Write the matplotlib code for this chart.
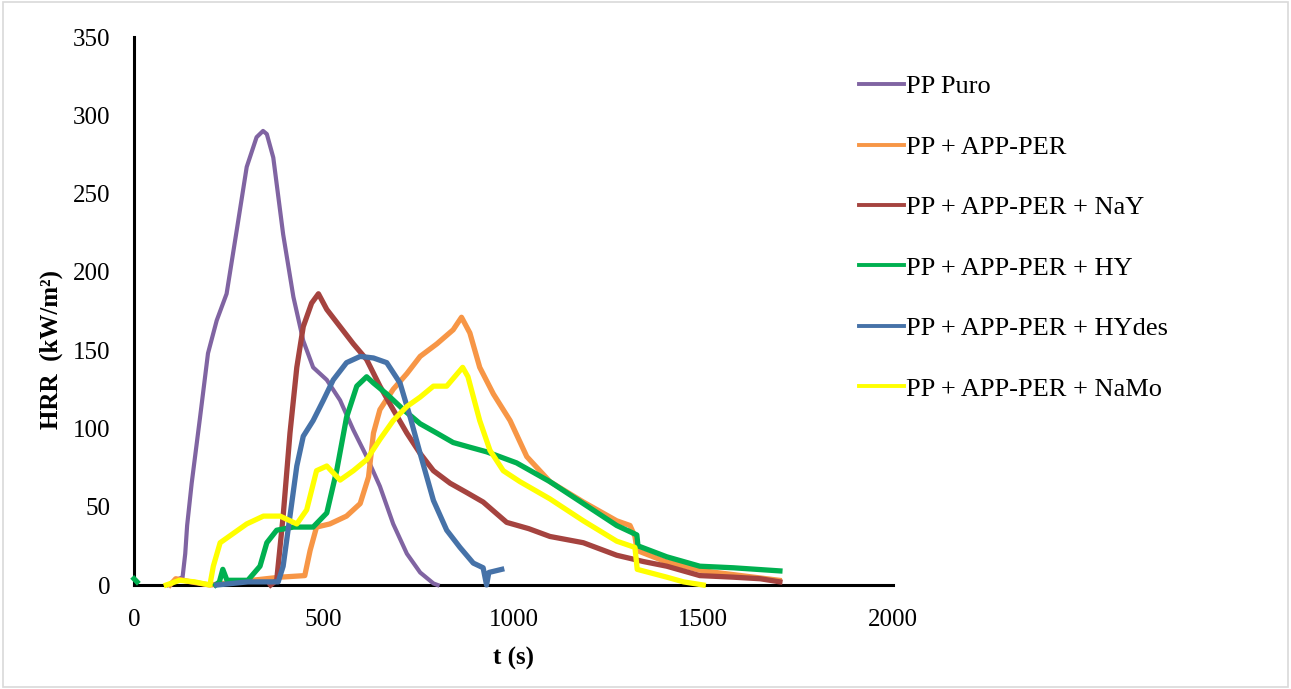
import numpy as np
import matplotlib
matplotlib.use("Agg")
import matplotlib.pyplot as plt
from matplotlib.lines import Line2D
from matplotlib.patches import Rectangle

# =========================
# DATA (HRR curves, cone calorimeter)
# =========================
labels = ["PP Puro", "PP + APP-PER", "PP + APP-PER + NaY",
          "PP + APP-PER + HY", "PP + APP-PER + HYdes", "PP + APP-PER + NaMo"]
colors = ["#8064A2", "#F79646", "#A5433F", "#00B050", "#4672A8", "#FFFF00"]

t_puro = [90, 110, 128, 135, 140, 152, 174, 195, 218, 244, 271, 297, 323, 340, 350,
          367, 393, 420, 446, 472, 508, 543, 578, 613, 648, 683, 719, 754, 789, 800]
hrr_puro = [0, 3, 5, 20, 38, 65, 107, 148, 169, 186, 227, 267, 286, 290, 288,
            273, 224, 184, 156, 139, 131, 118, 99, 82, 63, 39, 20, 8, 1, 0]

t_app = [95, 110, 130, 150, 200, 385, 450, 464, 481, 516, 560, 596, 618, 631, 648,
         683, 719, 754, 798, 841, 863, 885, 911, 947, 991, 1035, 1096, 1184, 1272,
         1307, 1320, 1326, 1400, 1500, 1600, 1700]
hrr_app = [0, 4, 3, 2, 0, 5, 6, 22, 37, 39, 44, 52, 69, 97, 112,
           125, 135, 146, 154, 163, 171, 161, 139, 122, 105, 82, 66, 53, 41,
           38, 31, 22, 15, 9, 6, 3]

t_nay = [360, 376, 393, 411, 429, 446, 468, 486, 508, 543, 578, 613, 648, 683, 719,
         754, 789, 833, 877, 920, 982, 1040, 1096, 1184, 1272, 1342, 1404, 1491,
         1579, 1650, 1702]
hrr_nay = [0, 3, 44, 97, 139, 165, 180, 186, 176, 165, 154, 144, 127, 112, 97,
           84, 73, 65, 59, 53, 40, 36, 31, 27, 19, 15, 12, 6, 5, 4, 2]

t_hy = [0, 8, np.nan, 215, 225, 234, 245, 300, 332, 350, 376, 420, 472, 508, 534,
        560, 587, 613, 631, 666, 710, 754, 798, 841, 885, 930, 1008, 1096, 1184,
        1272, 1325, 1328, 1404, 1491, 1579, 1702]
hrr_hy = [4, 2, np.nan, 0, 2, 10, 3, 3, 12, 27, 35, 37, 37, 46, 73,
          107, 127, 133, 129, 122, 112, 103, 97, 91, 88, 85, 78, 66, 52,
          38, 32, 25, 18, 12, 11, 9]

t_hydes = [218, 300, 380, 393, 411, 429, 446, 472, 499, 525, 560, 596, 631, 666, 701,
           728, 754, 789, 824, 859, 894, 920, 929, 935, 969]
hrr_hydes = [0, 2, 2, 12, 44, 76, 95, 105, 118, 131, 142, 146, 145, 142, 129,
             107, 84, 54, 35, 24, 14, 11, 0, 8, 10]

t_namo = [85, 120, 160, 200, 209, 227, 262, 297, 341, 385, 429, 455, 481, 508, 543,
          578, 613, 648, 683, 719, 754, 789, 824, 845, 866, 880, 911, 938, 973, 1017,
          1096, 1184, 1272, 1320, 1326, 1404, 1448, 1500]
hrr_namo = [0, 3, 2, 0, 12, 27, 33, 39, 44, 44, 39, 48, 73, 76, 67,
            73, 80, 93, 105, 114, 120, 127, 127, 133, 139, 133, 105, 86, 73, 66,
            55, 41, 28, 24, 10, 5, 2, 0]

series = [(t_puro, hrr_puro), (t_app, hrr_app), (t_nay, hrr_nay),
          (t_hy, hrr_hy), (t_hydes, hrr_hydes), (t_namo, hrr_namo)]

x_ticks = [0, 500, 1000, 1500, 2000]
y_ticks = [0, 50, 100, 150, 200, 250, 300, 350]

# =========================
# FIGURE
# =========================
plt.rcParams["font.family"] = ["Liberation Serif", "DejaVu Serif"]

fig = plt.figure(figsize=(12.91, 6.89), dpi=100)
fig.patches.append(Rectangle((0.002, 0.003), 0.996, 0.994, transform=fig.transFigure,
                             fill=False, edgecolor="#d9d9d9", linewidth=1.2))

ax = fig.add_axes([134 / 1291, 1 - 585 / 689, (893 - 134) / 1291, (585 - 37) / 689])

for i, ((t, h), c) in enumerate(zip(series, colors)):
    lw = 3.0 if i == 0 else 3.8
    ax.plot(t, h, color=c, linewidth=lw, solid_joinstyle="round",
            zorder=3 + i, clip_on=False)

ax.set_xlim(0, 2000)
ax.set_ylim(0, 350)
ax.set_xticks(x_ticks)
ax.set_yticks(y_ticks)
ax.tick_params(axis="both", length=0, labelsize=18)
ax.tick_params(axis="x", pad=17)
ax.tick_params(axis="y", pad=17)

for side in ["top", "right"]:
    ax.spines[side].set_visible(False)
ax.spines["left"].set_linewidth(2.2)
ax.spines["bottom"].set_linewidth(2.2)
ax.spines["left"].set_zorder(1)
ax.spines["bottom"].set_zorder(1)

ax.set_xlabel("t (s)", fontsize=18, fontweight="bold", labelpad=12)
ax.set_ylabel("HRR  (kW/m²)", fontsize=18, fontweight="bold", labelpad=14)
ax.yaxis.set_label_coords(-0.094, 0.43)

handles = [Line2D([0], [0], color=c, linewidth=2.8) for c in colors]
fig.legend(handles, labels, loc="upper left", bbox_to_anchor=(859 / 1291, 1 - 75 / 689),
           frameon=False, fontsize=19, handlelength=1.7, handletextpad=0.1,
           labelspacing=1.4, borderpad=0, borderaxespad=0)

fig.savefig("out.png", dpi=100, facecolor="white")
